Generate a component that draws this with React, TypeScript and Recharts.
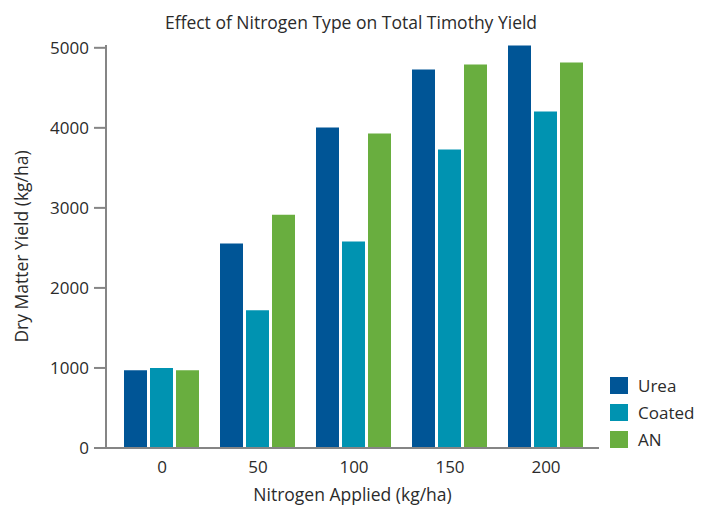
import React from 'react';
import { BarChart, Bar, XAxis, YAxis, Legend } from 'recharts';

const categories = ['0', '50', '100', '150', '200'];
const urea = [970, 2555, 4005, 4730, 5030];
const coated = [1000, 1720, 2580, 3730, 4205];
const an = [970, 2915, 3930, 4790, 4815];
const yTicks = [0, 1000, 2000, 3000, 4000, 5000];
const seriesOrder = ['Urea', 'Coated', 'AN'];

const data = categories.map((c, i) => ({ name: c, Urea: urea[i], Coated: coated[i], AN: an[i] }));

const FONT = '"Open Sans", sans-serif';
const TEXT = '#2b2b2b';
const AXIS = '#858585';

const renderLegend = (props: any) => {
  const payload = [...(props.payload || [])].sort(
    (a: any, b: any) => seriesOrder.indexOf(a.value) - seriesOrder.indexOf(b.value)
  );
  return (
    <div style={{ fontFamily: FONT, fontSize: 17, color: TEXT }}>
      {payload.map((p: any) => (
        <div key={p.value} style={{ display: 'flex', alignItems: 'center', height: 27 }}>
          <span style={{ display: 'inline-block', width: 18, height: 17, background: p.color, marginRight: 10 }} />
          <span>{p.value}</span>
        </div>
      ))}
    </div>
  );
};

export default function App() {
  return (
    <div style={{ position: 'absolute', left: 0, top: 0, width: 712, height: 510, background: '#fff' }}>
      <BarChart
        width={712}
        height={510}
        data={data}
        margin={{ top: 45, right: 113, bottom: 32, left: 46 }}
        barCategoryGap={10}
        barGap={3}
      >
        <text x={351} y={29} textAnchor="middle" fontFamily={FONT} fontSize={17.5} fill={TEXT}>
          Effect of Nitrogen Type on Total Timothy Yield
        </text>
        <XAxis
          dataKey="name"
          height={30}
          padding={{ left: 8, right: 5 }}
          tickLine={false}
          axisLine={{ stroke: AXIS, strokeWidth: 2 }}
          tick={{ fontFamily: FONT, fontSize: 17, fill: TEXT }}
          tickMargin={7}
          label={{ value: 'Nitrogen Applied (kg/ha)', position: 'insideBottom', offset: -23, fontFamily: FONT, fontSize: 17.5, fill: TEXT }}
        />
        <YAxis
          width={60}
          domain={[0, 5035]}
          ticks={yTicks}
          interval={0}
          tickSize={12}
          tickLine={{ stroke: AXIS, strokeWidth: 2 }}
          axisLine={{ stroke: AXIS, strokeWidth: 2 }}
          tick={{ fontFamily: FONT, fontSize: 17, fill: TEXT }}
          tickMargin={5}
          label={{ value: 'Dry Matter Yield (kg/ha)', angle: -90, position: 'insideLeft', offset: -24, style: { textAnchor: 'middle' }, fontFamily: FONT, fontSize: 17.5, fill: TEXT }}
        />
        <Legend
          layout="vertical"
          align="center"
          verticalAlign="middle"
          content={renderLegend}
          wrapperStyle={{ left: 610, top: 372, width: 100, transform: 'none' }}
        />
        <Bar dataKey="Urea" fill="#005596" isAnimationActive={false} />
        <Bar dataKey="Coated" fill="#0093b1" isAnimationActive={false} />
        <Bar dataKey="AN" fill="#69ae3f" isAnimationActive={false} />
      </BarChart>
    </div>
  );
}
